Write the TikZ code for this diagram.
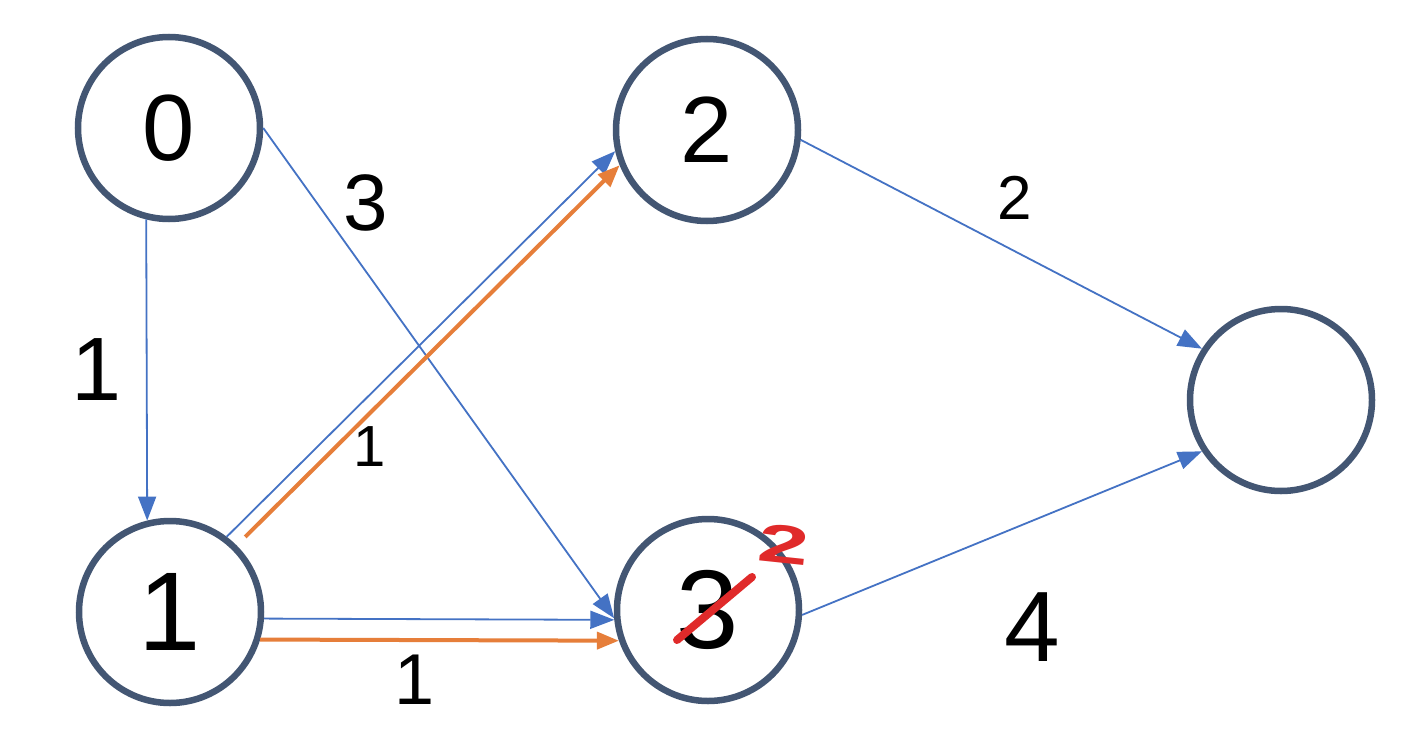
\documentclass[tikz,border=0pt]{standalone}
\usepackage{fontspec}
\setmainfont{Liberation Sans}
\usetikzlibrary{arrows.meta}
\definecolor{ringc}{HTML}{435673}
\definecolor{bluec}{HTML}{4472C4}
\definecolor{orangec}{HTML}{E67E3A}
\definecolor{redc}{HTML}{E02A2A}
\tikzset{
  vertex/.style={circle, draw=ringc, line width=6.5pt, minimum size=182pt, inner sep=0pt, fill=white},
  bluearrow/.style={draw=bluec, line width=1.8pt, -{Triangle[length=24pt,width=18pt]}, bluec},
  orangearrow/.style={draw=orangec, line width=4pt, -{Triangle[length=22pt,width=17pt]}, orangec},
  weight/.style={inner sep=0pt, text=black},
}
\newcommand{\fs}[1]{\fontsize{#1}{#1}\selectfont}
\begin{document}
\begin{tikzpicture}[x=1pt,y=-1pt]
\useasboundingbox (0,0) rectangle (1424,744);
\fill[white] (0,0) rectangle (1424,744);
% nodes
\node[vertex] (n0) at (169,128) {\fs{94}0};
\node[vertex] (n1) at (170,612) {\fs{112}1};
\node[vertex] (n2) at (707,130) {\fs{94}2};
\node[vertex] (n3) at (708,610) {\fs{112}3};
\node[vertex] (nr) at (1281,400) {};
% edges
\draw[bluearrow] (n0.256) -- (n1.104);
\draw[bluearrow] (n0.0) -- (n3.185);
\draw[bluearrow] (n1.53) -- (n2.193);
\draw[orangearrow, shorten <=12pt] (n1.45) -- (n2.202);
\draw[bluearrow] (n1.-4) -- (n3.186);
\draw[orangearrow] (n1.-17) -- (n3.199);
\draw[bluearrow] (n2.-6) -- (nr.147);
\draw[bluearrow] (n3.-3) -- (nr.213);
% weights
\node[weight] (w03) at (366,203) {\fs{80}3};
\node[weight] (w01) at (97,370) {\fs{90}1};
\node[weight] (w12) at (370,447) {\fs{58}1};
\node[weight] (w13) at (415,680) {\fs{72}1};
\node[weight] (w2r) at (1015,198) {\fs{62}2};
\node[weight] (w3r) at (1032,627) {\fs{100}4};
% red correction
\coordinate (s1) at (677,640);
\coordinate (s2) at (752,577);
\draw[redc, line width=8pt, line cap=round] (s1) -- (s2);
\node[weight, text=redc, font=\bfseries, rotate=-6, xscale=1.7] (corr) at (784,544) {\fs{54}2};
\end{tikzpicture}
\end{document}
